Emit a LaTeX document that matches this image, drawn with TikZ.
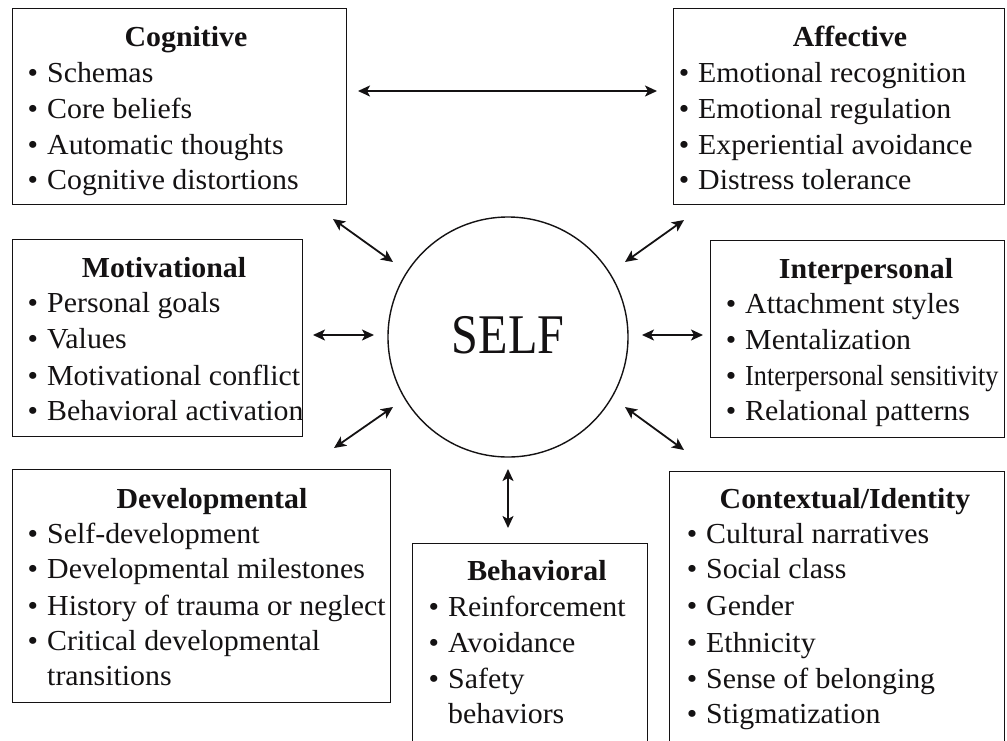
\documentclass[tikz,border=0pt]{standalone}
\usepackage{fontspec}
\usepackage{graphicx}
\setmainfont{Liberation Serif}[FakeStretch=1.03]
\newfontfamily\selffont{Liberation Serif}[FakeStretch=0.86]
\usetikzlibrary{arrows.meta}
\definecolor{ink}{HTML}{141213}
% bullet hanging to the left of an item's text
\newcommand\itm{\llap{\textbullet\hspace{9pt}}}
\begin{document}
\begin{tikzpicture}[x=1pt,y=-1pt,
  panel/.style={draw=ink, line width=1.2pt, rectangle, anchor=north west, inner sep=0pt},
  head/.style={anchor=base, inner sep=0pt, text=ink, font=\fontsize{29}{34}\selectfont\bfseries},
  item/.style={anchor=base west, inner sep=0pt, text=ink, font=\fontsize{29}{34}\selectfont},
  tip/.tip={Stealth[length=12pt,width=11pt,inset=3pt]},
  link/.style={draw=ink, line width=1.8pt, tip-tip},
]
\useasboundingbox (0,0) rectangle (1007,740);
\fill[white] (0,0) rectangle (1007,740);

% ---- central circle
\node[circle, draw=ink, line width=1.4pt, minimum size=240pt, inner sep=0pt] (self) at (508,337) {};
\node[anchor=base, inner sep=0pt, text=ink, font=\selffont\fontsize{56}{60}\selectfont] (selftext) at (508,353) {SELF};

% ---- panels
\node[panel, minimum width=334pt, minimum height=196pt] (cog) at (12,8) {};
\node[panel, minimum width=331pt, minimum height=196pt] (aff) at (673,8) {};
\node[panel, minimum width=290pt, minimum height=197pt] (mot) at (12,239) {};
\node[panel, minimum width=294pt, minimum height=197pt] (int) at (710,240) {};
\node[panel, minimum width=378pt, minimum height=233pt] (dev) at (12,469) {};
\node[panel, minimum width=235pt, minimum height=200pt] (beh) at (412,543) {};
\node[panel, minimum width=335pt, minimum height=272pt] (ctx) at (669,471) {};

% ---- Cognitive
\node[head] (cog-h) at (186,46) {Cognitive};
\node[item] (cog-1) at (47,82)  {\itm Schemas};
\node[item] (cog-2) at (47,118) {\itm Core beliefs};
\node[item] (cog-3) at (47,154) {\itm Automatic thoughts};
\node[item] (cog-4) at (47,189) {\itm Cognitive distortions};

% ---- Affective
\node[head] (aff-h) at (850,46) {Affective};
\node[item] (aff-1) at (698,82)  {\itm Emotional recognition};
\node[item] (aff-2) at (698,118) {\itm Emotional regulation};
\node[item] (aff-3) at (698,154) {\itm Experiential avoidance};
\node[item] (aff-4) at (698,189) {\itm Distress tolerance};

% ---- Motivational
\node[head] (mot-h) at (164,277) {Motivational};
\node[item] (mot-1) at (47,312) {\itm Personal goals};
\node[item] (mot-2) at (47,348) {\itm Values};
\node[item] (mot-3) at (47,385) {\itm Motivational conflict};
\node[item] (mot-4) at (47,420) {\itm Behavioral activation};

% ---- Interpersonal
\node[head] (int-h) at (866,278) {Interpersonal};
\node[item] (int-1) at (745,313) {\itm Attachment styles};
\node[item] (int-2) at (745,349) {\itm Mentalization};
\node[item] (int-3) at (745,385) {\itm \scalebox{0.88}[1]{Interpersonal sensitivity}};
\node[item] (int-4) at (745,420) {\itm Relational patterns};

% ---- Developmental
\node[head] (dev-h) at (212,508) {Developmental};
\node[item] (dev-1) at (47,543) {\itm Self-development};
\node[item] (dev-2) at (47,578) {\itm Developmental milestones};
\node[item] (dev-3) at (47,615) {\itm History of trauma or neglect};
\node[item] (dev-4) at (47,650) {\itm Critical developmental};
\node[item] (dev-5) at (47,685) {transitions};

% ---- Behavioral
\node[head] (beh-h) at (537,580) {Behavioral};
\node[item] (beh-1) at (448,616) {\itm Reinforcement};
\node[item] (beh-2) at (448,652) {\itm Avoidance};
\node[item] (beh-3) at (448,688) {\itm Safety};
\node[item] (beh-4) at (448,723) {behaviors};

% ---- Contextual/Identity
\node[head] (ctx-h) at (845,508) {Contextual/Identity};
\node[item] (ctx-1) at (706,543) {\itm Cultural narratives};
\node[item] (ctx-2) at (706,578) {\itm Social class};
\node[item] (ctx-3) at (706,615) {\itm Gender};
\node[item] (ctx-4) at (706,652) {\itm Ethnicity};
\node[item] (ctx-5) at (706,688) {\itm Sense of belonging};
\node[item] (ctx-6) at (706,723) {\itm Stigmatization};

% ---- arrow end points
\coordinate (cog-aff-a) at (358,91);
\coordinate (cog-aff-b) at (657,91);
\coordinate (cog-s) at (333,219);
\coordinate (s-cog) at (393,262);
\coordinate (aff-s) at (684,220);
\coordinate (s-aff) at (625,262);
\coordinate (mot-s) at (313,335);
\coordinate (s-mot) at (374,335);
\coordinate (int-s) at (703,335);
\coordinate (s-int) at (642,335);
\coordinate (dev-s) at (334,448);
\coordinate (s-dev) at (393,407);
\coordinate (ctx-s) at (684,450);
\coordinate (s-ctx) at (625,407);
\coordinate (beh-s) at (508,528);
\coordinate (s-beh) at (508,469);

% ---- two-way links
\draw[link] (cog-aff-a) -- (cog-aff-b);
\draw[link] (cog-s) -- (s-cog);
\draw[link] (aff-s) -- (s-aff);
\draw[link] (mot-s) -- (s-mot);
\draw[link] (int-s) -- (s-int);
\draw[link] (dev-s) -- (s-dev);
\draw[link] (ctx-s) -- (s-ctx);
\draw[link] (beh-s) -- (s-beh);
\end{tikzpicture}
\end{document}
